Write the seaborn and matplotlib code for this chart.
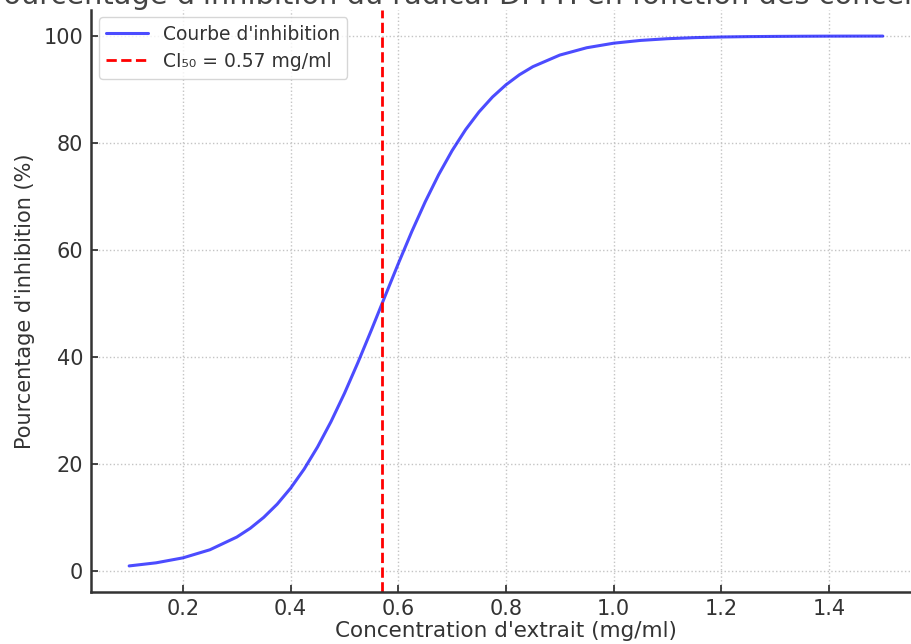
import matplotlib
matplotlib.use("Agg")
import matplotlib.pyplot as plt
import seaborn as sns

# concentrations (mg/ml) and inhibition (%)
concentration = [0.10, 0.15, 0.20, 0.25, 0.30, 0.325, 0.35, 0.375, 0.40, 0.425,
                 0.45, 0.475, 0.50, 0.525, 0.55, 0.575, 0.60, 0.625, 0.65, 0.675,
                 0.70, 0.725, 0.75, 0.775, 0.80, 0.825, 0.85, 0.90, 0.95, 1.00,
                 1.05, 1.10, 1.15, 1.20, 1.25, 1.30, 1.35, 1.40, 1.45, 1.50]
inhibition = [0.90, 1.48, 2.41, 3.92, 6.30, 7.94, 9.98, 12.45, 15.45, 19.00,
              23.15, 27.89, 33.18, 38.94, 45.02, 51.25, 57.44, 63.42, 69.00, 74.08,
              78.58, 82.49, 85.82, 88.60, 90.88, 92.76, 94.27, 96.44, 97.81, 98.66,
              99.18, 99.50, 99.70, 99.82, 99.89, 99.93, 99.96, 99.98, 99.985, 99.99]
ic50 = 0.57

sns.set_theme(style="ticks")
plt.rcParams['font.family'] = ['DejaVu Sans']

fig = plt.figure(figsize=(9.11, 6.44), dpi=100)
ax = fig.add_axes([0.1004, 0.0801, 0.910, 0.905])

sns.lineplot(x=concentration, y=inhibition, ax=ax, color='blue', alpha=0.7,
             linewidth=2.2, label="Courbe d'inhibition")
ax.axvline(ic50, color='red', linestyle='--', linewidth=2, label=f"CI₅₀ = {ic50} mg/ml")

ax.set_title("Pourcentage d'inhibition du radical DPPH en fonction des concentrations",
             fontsize=20.7, pad=-1, x=0.505, color='#444444')
ax.set_xlabel("Concentration d'extrait (mg/ml)", fontsize=15.5, color='#333333', labelpad=1)
ax.set_ylabel("Pourcentage d'inhibition (%)", fontsize=15, color='#333333', labelpad=6)
ax.set_xticks([0.2, 0.4, 0.6, 0.8, 1.0, 1.2, 1.4])
ax.set_yticks([0, 20, 40, 60, 80, 100])
ax.tick_params(direction='in', length=5, width=1.2, labelsize=15, labelcolor='#333333')
ax.tick_params(axis='x', pad=5)
ax.tick_params(axis='y', pad=6)
ax.grid(True, linestyle=':', color='#c4c4c4', linewidth=1)
sns.despine(ax=ax)
for s in ['left', 'bottom']:
    ax.spines[s].set_linewidth(1.8)
    ax.spines[s].set_color('#333333')

leg = ax.legend(loc='upper left', fontsize=13.5, frameon=True, handlelength=2.2,
                borderaxespad=0.4, borderpad=0.4, labelspacing=0.45)
leg.get_frame().set_edgecolor('#cccccc')
for t in leg.get_texts():
    t.set_color('#333333')

fig.savefig("out.png")
